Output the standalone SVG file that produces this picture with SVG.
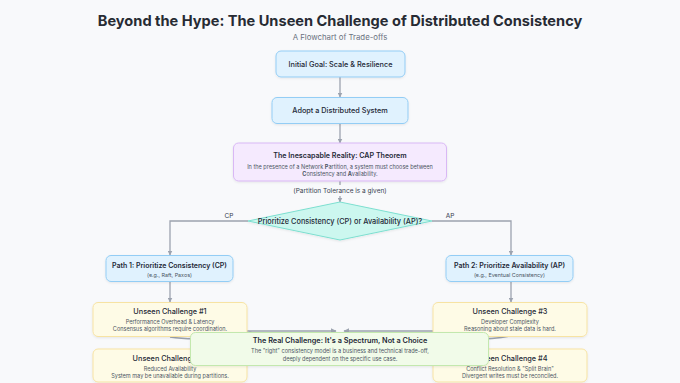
<svg xmlns="http://www.w3.org/2000/svg" width="680" height="383" viewBox="0 0 680 383">
<defs>
<marker id="arr" viewBox="0 0 10 10" refX="9" refY="5" markerWidth="5" markerHeight="5" orient="auto-start-reverse" markerUnits="userSpaceOnUse">
<path d="M0,0 L10,5 L0,10 z" fill="#9ca3af"/>
</marker>
<marker id="arrs" viewBox="0 0 10 10" refX="9" refY="5" markerWidth="6" markerHeight="6" orient="auto" markerUnits="userSpaceOnUse">
<path d="M0,0 L10,5 L0,10 z" fill="#9ca3af"/>
</marker>
<filter id="sh" x="-10%" y="-20%" width="120%" height="150%">
<feDropShadow dx="0" dy="1" stdDeviation="1.2" flood-color="#000" flood-opacity="0.08"/>
</filter>
</defs>
<style>
text{font-family:Inter,"Liberation Sans",sans-serif;fill:#1f2937;text-anchor:middle}
.t{font-size:7.3px;font-weight:500}
.h{font-size:7.3px;font-weight:600}
.s{font-size:5.55px;fill:#4b5563}
.e{font-size:5.4px;fill:#4b5563}
.lbl{font-size:6.5px;fill:#374151}
.blue{fill:#e0f2fe;stroke:#93cdf5;stroke-width:1}
.purple{fill:#f5eafe;stroke:#d9b8f5;stroke-width:1}
.yellow{fill:#fefbe6;stroke:#f7e3a3;stroke-width:1}
.green{fill:#f1fbe9;stroke:#c3e8ae;stroke-width:1}
.dia{fill:#ccf7ef;stroke:#7ddfd0;stroke-width:1}
.c{fill:none;stroke:#9ca3af;stroke-width:1.3}
</style>
<rect width="680" height="383" fill="#f8f9fb"/>
<text x="340" y="26" style="font-size:14.6px;font-weight:700;fill:#272b33">Beyond the Hype: The Unseen Challenge of Distributed Consistency</text>
<text x="340" y="39.5" style="font-size:7.8px;fill:#6b7280">A Flowchart of Trade-offs</text>

<g id="connectors">
<path class="c" d="M340,77 V97" marker-end="url(#arr)"/>
<path class="c" d="M340,123 V143" marker-end="url(#arr)"/>
<path class="c" d="M340,181 V185"/>
<path class="c" d="M340,196 V202" marker-end="url(#arr)"/>
<path class="c" d="M248,221 H170 V255" marker-end="url(#arr)"/>
<path class="c" d="M432,221 H511 V255" marker-end="url(#arr)"/>
<path class="c" d="M170,281 V302" marker-end="url(#arr)"/>
<path class="c" d="M511,281 V302" marker-end="url(#arr)"/>
<path class="c" d="M170,337 Q200,342 255,333" marker-end="url(#arrs)"/>
<path class="c" d="M510,336 Q480,342 428,337" marker-end="url(#arrs)"/>
<path class="c" d="M247,331 H336" marker-end="url(#arrs)"/>
<path class="c" d="M433,331 H344" marker-end="url(#arrs)"/>
<text x="229" y="218" class="lbl">CP</text>
<text x="450" y="218" class="lbl">AP</text>
<text x="340" y="193" class="lbl">(Partition Tolerance is a given)</text>
</g>

<g id="n1"><rect class="blue" x="276" y="51" width="129" height="26" rx="5" filter="url(#sh)"/>
<text x="340.5" y="66.5" class="t">Initial Goal: Scale &amp; Resilience</text></g>

<g id="n2"><rect class="blue" x="272" y="97.5" width="136" height="26" rx="5" filter="url(#sh)"/>
<text x="340" y="112.8" class="t">Adopt a Distributed System</text></g>

<g id="n3"><rect class="purple" x="233.5" y="143" width="213" height="38" rx="5" filter="url(#sh)"/>
<text x="340" y="158" class="h" style="font-size:7.1px">The Inescapable Reality: CAP Theorem</text>
<text x="340" y="169.3" class="s">In the presence of a Network <tspan font-weight="700">P</tspan>artition, a system must choose between</text>
<text x="340" y="175.8" class="s"><tspan font-weight="700">C</tspan>onsistency and <tspan font-weight="700">A</tspan>vailability.</text></g>

<g id="n4"><polygon class="dia" points="340,202 432,221 340,240 248,221" filter="url(#sh)"/>
<text x="340" y="223.8" style="font-size:7.35px;font-weight:500">Prioritize Consistency (CP) or Availability (AP)?</text></g>

<g id="n5"><rect class="blue" x="106" y="255.5" width="127" height="26" rx="5" filter="url(#sh)"/>
<text x="169.5" y="268" class="h" style="font-size:7px">Path 1: Prioritize Consistency (CP)</text>
<text x="169.5" y="277" class="e">(e.g., Raft, Paxos)</text></g>

<g id="n6"><rect class="blue" x="446" y="255.5" width="127" height="26" rx="5" filter="url(#sh)"/>
<text x="509.5" y="268" class="h" style="font-size:7px">Path 2: Prioritize Availability (AP)</text>
<text x="509.5" y="277" class="e">(e.g., Eventual Consistency)</text></g>

<g id="n7"><rect class="yellow" x="93" y="302.5" width="154" height="34" rx="5" filter="url(#sh)"/>
<text x="170" y="313.6" class="h" style="font-weight:500">Unseen Challenge #1</text>
<text x="170" y="324.2" class="s">Performance Overhead &amp; Latency</text>
<text x="170" y="331.2" class="s">Consensus algorithms require coordination.</text></g>

<g id="n8"><rect class="yellow" x="93" y="349" width="154" height="33" rx="5" filter="url(#sh)"/>
<text x="170" y="360.6" class="h" style="font-weight:500">Unseen Challenge #2</text>
<text x="170" y="371.2" class="s">Reduced Availability</text>
<text x="170" y="378.2" class="s">System may be unavailable during partitions.</text></g>

<g id="n9"><rect class="yellow" x="433" y="302.5" width="154" height="34" rx="5" filter="url(#sh)"/>
<text x="510" y="313.6" class="h" style="font-weight:500">Unseen Challenge #3</text>
<text x="510" y="324.2" class="s">Developer Complexity</text>
<text x="510" y="331.2" class="s">Reasoning about stale data is hard.</text></g>

<g id="n10"><rect class="yellow" x="433" y="349" width="154" height="33" rx="5" filter="url(#sh)"/>
<text x="510" y="360.6" class="h" style="font-weight:500">Unseen Challenge #4</text>
<text x="510" y="371.2" class="s">Conflict Resolution &amp; "Split Brain"</text>
<text x="510" y="378.2" class="s">Divergent writes must be reconciled.</text></g>

<g id="n11"><rect class="green" x="190.5" y="332.5" width="298" height="33" rx="5" filter="url(#sh)"/>
<text x="340" y="343.3" class="h">The Real Challenge: It's a Spectrum, Not a Choice</text>
<text x="340" y="353.4" class="s">The "right" consistency model is a business and technical trade-off,</text>
<text x="340" y="360.6" class="s">deeply dependent on the specific use case.</text></g>
</svg>
